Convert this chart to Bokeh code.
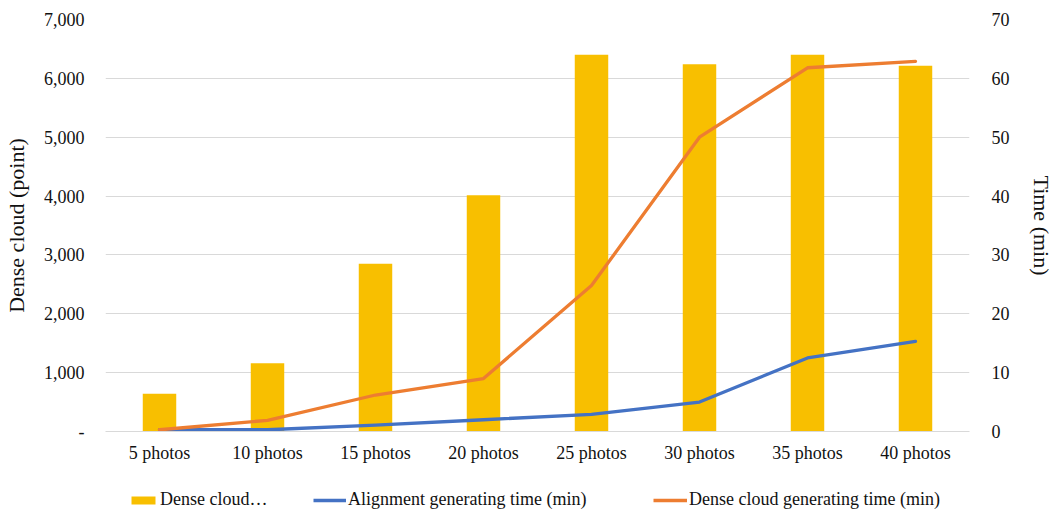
from bokeh.plotting import figure
from bokeh.layouts import column
from bokeh.models import (FactorRange, Range1d, LinearAxis, FixedTicker,
                          CustomJSTickFormatter, Legend, LegendItem)
from bokeh.embed import file_html
from bokeh.resources import INLINE

# Photo-set sizes on the x axis
categories = ["5 photos", "10 photos", "15 photos", "20 photos",
              "25 photos", "30 photos", "35 photos", "40 photos"]

# Dense cloud size (points) – bars on the left axis
dense_cloud_points = [640, 1160, 2850, 4015, 6400, 6240, 6400, 6215]

# Processing times (min) – lines on the right axis
alignment_time_min = [0.3, 0.3, 1.1, 2.0, 2.9, 5.0, 12.5, 15.3]
dense_cloud_time_min = [0.3, 1.9, 6.2, 9.0, 24.8, 50.0, 61.8, 62.9]

left_ticks = [0, 1000, 2000, 3000, 4000, 5000, 6000, 7000]
right_ticks = [0, 10, 20, 30, 40, 50, 60, 70]

legend_labels = ["Dense cloud\u2026",
                 "Alignment generating time (min)",
                 "Dense cloud generating time (min)"]

FONT = "Liberation Serif"
TEXT = "#111111"
GRID = "#D9D9D9"
BAR = "#F8BF00"
BLUE = "#4472C4"
ORANGE = "#ED7D31"
LINE_W = 3.3

p = figure(width=1056, height=476,
           x_range=FactorRange(*categories, range_padding=0),
           y_range=Range1d(0, 7000),
           output_backend="svg", toolbar_location=None,
           min_border_left=104, min_border_right=86,
           min_border_top=19, min_border_bottom=45)
p.outline_line_color = None
p.background_fill_color = "white"
p.border_fill_color = "white"

p.extra_y_ranges = {"time": Range1d(0, 70)}

# Bars
p.vbar(x=categories, top=dense_cloud_points, width=0.31,
       fill_color=BAR, line_color=None)

# Lines
p.line(x=categories, y=alignment_time_min, y_range_name="time",
       line_color=BLUE, line_width=LINE_W, line_cap="round", line_join="round")
p.line(x=categories, y=dense_cloud_time_min, y_range_name="time",
       line_color=ORANGE, line_width=LINE_W, line_cap="round", line_join="round")

# Grid
p.xgrid.grid_line_color = None
p.ygrid.grid_line_color = GRID
p.ygrid.grid_line_width = 1

# Left axis
yl = p.yaxis[0]
yl.ticker = FixedTicker(ticks=left_ticks)
yl.formatter = CustomJSTickFormatter(
    code="return tick == 0 ? '-' : Number(tick).toLocaleString('en-US');")
yl.axis_label = "Dense cloud (point)"

# Right axis
yr = LinearAxis(y_range_name="time", ticker=FixedTicker(ticks=right_ticks),
                axis_label="Time (min)")
p.add_layout(yr, "right")

for ax in (yl, yr):
    ax.axis_line_color = None
    ax.major_tick_line_color = None
    ax.minor_tick_line_color = None
    ax.major_label_text_font = FONT
    ax.major_label_text_font_size = "18px"
    ax.major_label_text_color = TEXT
    ax.axis_label_text_font = FONT
    ax.axis_label_text_font_size = "22px"
    ax.axis_label_text_font_style = "normal"
    ax.axis_label_text_color = TEXT

yl.major_label_standoff = 15
yl.axis_label_standoff = 12
yr.major_label_standoff = 16
yr.axis_label_standoff = 16

# Bottom axis
xa = p.xaxis[0]
xa.axis_line_color = GRID
xa.major_tick_line_color = None
xa.minor_tick_line_color = None
xa.major_label_text_font = FONT
xa.major_label_text_font_size = "18px"
xa.major_label_text_color = TEXT
xa.major_label_standoff = 5

# Legend strip under the chart (its frame lines up with the chart's frame)
lg_fig = figure(width=1056, height=38, x_range=Range1d(0, 1), y_range=Range1d(0, 1),
                x_axis_type=None, y_axis_type=None,
                output_backend="svg", toolbar_location=None, min_border=0)
lg_fig.outline_line_color = None
lg_fig.grid.grid_line_color = None
lg_fig.background_fill_color = "white"
lg_fig.border_fill_color = "white"

# swatch renderers, kept outside the visible range
sw_bar = lg_fig.vbar(x=[-10], top=[-10], width=0.1, fill_color=BAR, line_color=None)
sw_blue = lg_fig.line(x=[-10, -9], y=[-10, -10], line_color=BLUE, line_width=LINE_W)
sw_orange = lg_fig.line(x=[-10, -9], y=[-10, -10], line_color=ORANGE, line_width=LINE_W)

entries = [(legend_labels[0], sw_bar, 23, 30, 10),
           (legend_labels[1], sw_blue, 208, 33, 10),
           (legend_labels[2], sw_orange, 548, 34, 10)]
for label, rend, x_off, gw, gh in entries:
    lg = Legend(items=[LegendItem(label=label, renderers=[rend])],
                location=(x_off, 4), orientation="horizontal",
                border_line_color=None, background_fill_alpha=0,
                padding=0, margin=0, spacing=0,
                glyph_width=gw, glyph_height=gh, label_standoff=2,
                label_text_font=FONT, label_text_font_size="18px",
                label_text_color=TEXT)
    lg_fig.add_layout(lg, "center")

layout = column(p, lg_fig, spacing=0)
open("out.html", "w").write(file_html(layout, INLINE))
